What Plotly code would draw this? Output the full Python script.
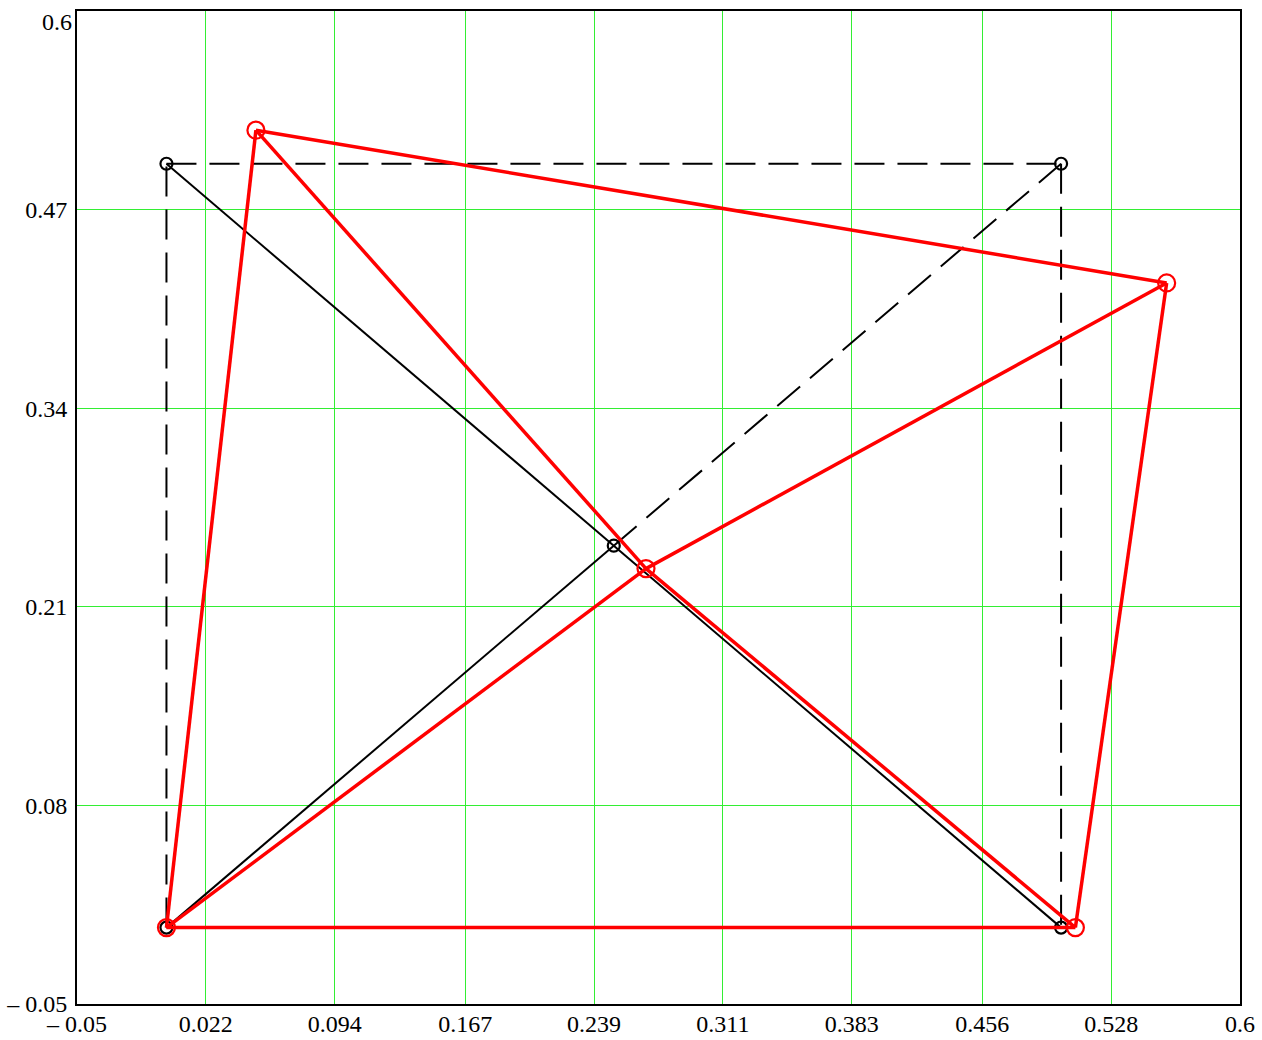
import plotly.graph_objects as go

# Undeformed nodes (black)
x0 = [0.0, 0.5, 0.5, 0.0, 0.25]
y0 = [0.0, 0.0, 0.5, 0.5, 0.25]
# Deformed nodes (red)
x1 = [0.0, 0.508, 0.559, 0.050, 0.268]
y1 = [0.0, 0.0, 0.422, 0.522, 0.235]

# Elements (node index pairs)
solid_black = [(0, 1), (3, 4), (4, 1), (0, 4)]
dashed_black = [(0, 3), (3, 2), (2, 1), (4, 2)]
red_elems = [(0, 1), (1, 2), (2, 3), (3, 0), (3, 4), (4, 1), (0, 4), (4, 2)]

xticks = [-0.05, 0.022, 0.094, 0.167, 0.239, 0.311, 0.383, 0.456, 0.528, 0.6]
xticklabels = ["\u2013 0.05", "0.022", "0.094", "0.167", "0.239", "0.311", "0.383", "0.456", "0.528", "0.6"]
yticks = [-0.05, 0.08, 0.21, 0.34, 0.47, 0.6]
yticklabels = ["\u2013 0.05", "0.08", "0.21", "0.34", "0.47", "0.6"]


def seg(elems, xs, ys):
    px, py = [], []
    for a, b in elems:
        px += [xs[a], xs[b], None]
        py += [ys[a], ys[b], None]
    return px, py


fig = go.Figure()
sx, sy = seg(solid_black, x0, y0)
fig.add_trace(go.Scatter(x=sx, y=sy, mode="lines", line=dict(color="black", width=2), hoverinfo="skip"))
dx, dy = seg(dashed_black, x0, y0)
fig.add_trace(go.Scatter(x=dx, y=dy, mode="lines", line=dict(color="black", width=2, dash="30px,13px"), hoverinfo="skip"))
fig.add_trace(go.Scatter(x=x0, y=y0, mode="markers",
                         marker=dict(symbol="circle-open", size=12, color="black", line=dict(width=2.2))))
rx, ry = seg(red_elems, x1, y1)
fig.add_trace(go.Scatter(x=rx, y=ry, mode="lines", line=dict(color="#ff0000", width=3.5), hoverinfo="skip"))
fig.add_trace(go.Scatter(x=x1, y=y1, mode="markers",
                         marker=dict(symbol="circle-open", size=17, color="#ff0000", line=dict(width=2.2))))

font = dict(family="Liberation Serif, Times New Roman, serif", size=24, color="black")
ytext_axis = yticklabels[:-1] + [""]
fig.update_layout(
    width=1262, height=1040,
    margin=dict(l=77, r=22, t=11, b=36),
    paper_bgcolor="white", plot_bgcolor="white",
    showlegend=False,
    font=font,
)
fig.add_annotation(x=0, xref="paper", xanchor="right", xshift=-3,
                   y=yticks[-1], yref="y", yanchor="top", yshift=4,
                   text=yticklabels[-1], showarrow=False, font=font)
fig.update_xaxes(range=[-0.05, 0.6], tickvals=xticks, ticktext=xticklabels,
                 showgrid=True, gridcolor="#33ee33", gridwidth=1,
                 showline=True, linecolor="black", linewidth=2, mirror=True,
                 zeroline=False, ticks="", tickfont=font, ticklabelstandoff=-3,
                 automargin=False)
fig.update_yaxes(range=[-0.05, 0.6], tickvals=yticks, ticktext=ytext_axis,
                 showgrid=True, gridcolor="#33ee33", gridwidth=1,
                 showline=True, linecolor="black", linewidth=2, mirror=True,
                 zeroline=False, ticks="", tickfont=font, ticklabelstandoff=3,
                 automargin=False)

fig.write_html("out.html")
